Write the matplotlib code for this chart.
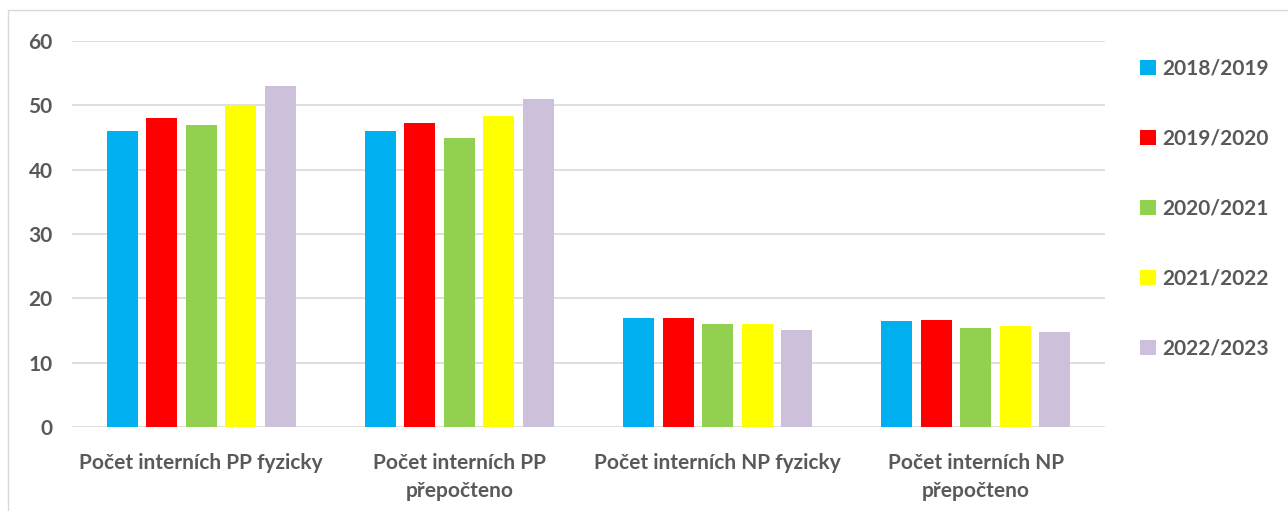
import numpy as np
import matplotlib.pyplot as plt
from matplotlib.patches import Rectangle

plt.rcParams['font.family'] = ['Lato', 'DejaVu Sans']
plt.rcParams['font.weight'] = 'bold'

# data
categories = ['Počet interních PP fyzicky', 'Počet interních PP\npřepočteno',
              'Počet interních NP fyzicky', 'Počet interních NP\npřepočteno']
years = ['2018/2019', '2019/2020', '2020/2021', '2021/2022', '2022/2023']
v_2018 = [46, 46, 17, 16.5]
v_2019 = [48, 47.2, 17, 16.6]
v_2020 = [47, 44.9, 16, 15.4]
v_2021 = [50, 48.4, 16, 15.7]
v_2022 = [53, 51, 15, 14.8]
colors = ['#00b0f0', '#ff0000', '#92d050', '#ffff00', '#ccc0da']

series = [v_2018, v_2019, v_2020, v_2021, v_2022]

fig = plt.figure(figsize=(12.88, 5.11), dpi=100)
ax = fig.add_axes([0.0559, 0.1644, 0.802, 0.7554])

x = np.arange(len(categories))
width = 0.12
pitch = 0.153
for i, (vals, yr, c) in enumerate(zip(series, years, colors)):
    ax.bar(x + (i - 2) * pitch, vals, width, color=c, label=yr, zorder=3)

ax.set_xlim(-0.5, 3.5)
ax.set_ylim(0, 60)
ax.set_yticks(range(0, 61, 10))
ax.grid(axis='y', color='#d9d9d9', linewidth=1.2, zorder=0)
for s in ax.spines.values():
    s.set_visible(False)
ax.tick_params(length=0, colors='#595959', labelsize=15)
ax.tick_params(axis='y', pad=14)
ax.tick_params(axis='x', pad=19)
ax.set_xticks(x)
ax.set_xticklabels(categories, fontweight='bold', linespacing=1.45)

leg = ax.legend(loc='upper left', bbox_to_anchor=(1.016, 1.003), frameon=False,
                handlelength=0.75, handleheight=0.75, handletextpad=0.3,
                labelspacing=2.4, fontsize=15)
for t in leg.get_texts():
    t.set_color('#595959')

# chart border
fig.patches.append(Rectangle((8 / 1288, -0.1), 1.2, 1 - 10 / 511 + 0.1,
                             transform=fig.transFigure, fill=False,
                             edgecolor='#d9d9d9', linewidth=1))

fig.savefig('out.png', dpi=100)
